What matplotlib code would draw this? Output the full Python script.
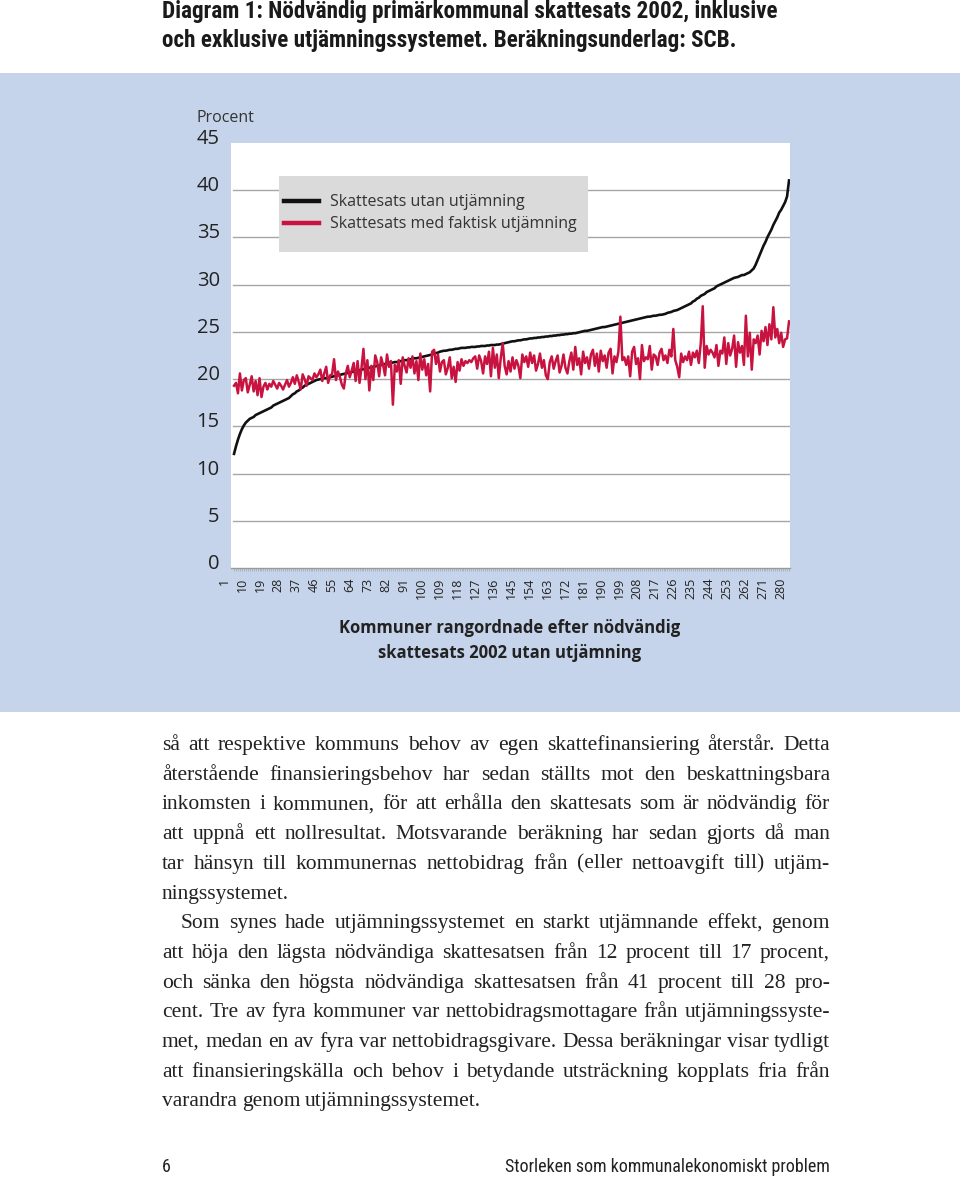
import matplotlib
matplotlib.use('Agg')
import matplotlib.pyplot as plt
import numpy as np
from matplotlib.patches import Rectangle
from matplotlib.lines import Line2D

# --- data ---
utan = [
    12.1, 12.9, 13.6, 14.2, 14.7, 15.1, 15.4, 15.6, 15.8, 15.9,
    16.0, 16.2, 16.3, 16.4, 16.5, 16.6, 16.7, 16.8, 16.9, 17.0,
    17.2, 17.3, 17.4, 17.5, 17.6, 17.7, 17.8, 17.9, 18.0, 18.2,
    18.4, 18.5, 18.7, 18.8, 19.0, 19.1, 19.3, 19.4, 19.5, 19.6,
    19.7, 19.8, 19.9, 19.95, 20.0, 20.05, 20.1, 20.1, 20.15, 20.2,
    20.25, 20.3, 20.35, 20.4, 20.45, 20.5, 20.55, 20.6, 20.65, 20.7,
    20.75, 20.8, 20.85, 20.9, 20.95, 21.0, 21.05, 21.1, 21.15, 21.2,
    21.25, 21.3, 21.35, 21.4, 21.45, 21.5, 21.55, 21.6, 21.6, 21.65,
    21.7, 21.75, 21.8, 21.8, 21.85, 21.9, 21.95, 22.0, 22.0, 22.05,
    22.1, 22.15, 22.2, 22.2, 22.25, 22.3, 22.35, 22.4, 22.45, 22.5,
    22.55, 22.6, 22.7, 22.75, 22.8, 22.9, 22.95, 23.0, 23.0, 23.05,
    23.1, 23.1, 23.15, 23.2, 23.2, 23.25, 23.3, 23.3, 23.3, 23.35,
    23.35, 23.4, 23.4, 23.4, 23.45, 23.45, 23.5, 23.5, 23.5, 23.55,
    23.55, 23.6, 23.6, 23.6, 23.65, 23.65, 23.7, 23.75, 23.8, 23.85,
    23.9, 23.95, 24.0, 24.0, 24.05, 24.1, 24.1, 24.15, 24.2, 24.2,
    24.25, 24.3, 24.3, 24.35, 24.35, 24.4, 24.4, 24.45, 24.45, 24.5,
    24.5, 24.55, 24.55, 24.6, 24.6, 24.65, 24.65, 24.7, 24.7, 24.75,
    24.75, 24.8, 24.8, 24.85, 24.85, 24.9, 24.95, 25.0, 25.05, 25.1,
    25.1, 25.15, 25.2, 25.25, 25.3, 25.35, 25.4, 25.45, 25.5, 25.5,
    25.55, 25.6, 25.65, 25.7, 25.75, 25.8, 25.85, 25.9, 25.95, 26.0,
    26.05, 26.1, 26.15, 26.2, 26.25, 26.3, 26.35, 26.4, 26.45, 26.5,
    26.55, 26.6, 26.6, 26.65, 26.7, 26.7, 26.75, 26.8, 26.8, 26.85,
    26.9, 27.0, 27.05, 27.1, 27.2, 27.25, 27.3, 27.4, 27.5, 27.6,
    27.7, 27.8, 27.9, 28.0, 28.2, 28.3, 28.5, 28.6, 28.8, 28.9,
    29.0, 29.2, 29.3, 29.4, 29.5, 29.6, 29.8, 29.9, 30.0, 30.1,
    30.2, 30.3, 30.4, 30.5, 30.6, 30.7, 30.75, 30.8, 30.9, 31.0,
    31.0, 31.1, 31.2, 31.3, 31.5, 31.7, 32.1, 32.6, 33.1, 33.6,
    34.1, 34.5, 35.0, 35.4, 35.8, 36.3, 36.7, 37.1, 37.6, 37.9,
    38.3, 38.7, 39.3, 41.0,
]

med = [
    19.3, 19.6, 18.5, 20.6, 18.8, 19.9, 20.1, 18.6, 19.4, 20.3,
    18.7, 19.8, 18.3, 20.1, 18.1, 19.2, 19.6, 18.9, 19.5, 19.2,
    19.8, 19.4, 19.0, 19.6, 19.3, 18.9, 19.4, 19.9, 19.2, 19.6,
    20.2, 19.5, 20.4, 19.7, 18.9, 20.5, 20.0, 19.3, 20.3, 20.1,
    19.9, 20.6, 20.2, 20.5, 21.0, 19.8, 20.6, 21.3, 19.6, 20.4,
    20.5, 22.1, 19.9, 20.8, 20.2, 19.4, 19.0, 20.6, 21.4, 20.2,
    20.9, 21.7, 19.8, 21.9, 19.6, 21.2, 23.2, 20.0, 22.0, 18.8,
    21.4, 19.9, 22.5, 21.8, 20.3, 22.3, 21.5, 20.4, 22.6, 21.3,
    21.9, 17.3, 21.5, 20.8, 22.0, 19.5, 22.3, 21.4, 20.7, 22.2,
    21.2, 22.4, 20.6, 21.9, 19.9, 22.7, 21.0, 22.1, 20.4, 21.6,
    18.7, 22.9, 23.1, 21.6, 22.6, 20.8, 21.8, 22.0, 20.5, 21.2,
    22.3, 20.1, 21.3, 19.7, 21.8, 20.9, 22.1, 21.4, 21.9, 21.7,
    22.0, 21.8, 22.2, 22.4, 21.1, 22.5, 21.9, 20.6, 22.4, 21.6,
    22.9, 20.3, 23.3, 21.2, 22.6, 20.1, 22.2, 23.8, 21.4, 20.5,
    21.9, 20.8, 22.3, 21.1, 22.0, 21.4, 20.1, 22.6, 21.8, 22.4,
    21.3, 22.8, 21.7, 22.5, 20.9, 21.6, 22.7, 21.2, 22.0, 20.4,
    20.0, 21.8, 22.4, 21.1, 21.9, 22.5, 20.7, 21.4, 22.6, 21.2,
    20.6, 21.9, 22.8, 21.0, 23.4, 21.5, 22.2, 20.5, 22.9, 21.7,
    22.3, 21.1, 22.6, 23.1, 21.4, 22.7, 20.8, 23.0, 21.9, 22.5,
    21.2, 22.8, 23.2, 20.6, 22.4, 21.8, 22.9, 26.6, 22.0, 22.3,
    21.5, 22.4, 20.3, 22.9, 23.4, 21.6, 22.2, 20.0, 23.6, 21.9,
    22.3, 22.1, 23.5, 21.0, 22.6, 22.4, 21.5, 22.8, 23.2, 22.0,
    22.5, 21.7, 23.1, 22.4, 25.3, 22.0, 21.3, 20.2, 22.7, 21.8,
    22.4, 22.0, 22.9, 21.5, 22.8, 22.3, 23.0, 21.7, 23.8, 27.7,
    21.2, 23.5, 22.6, 23.1, 22.8, 22.3, 23.6, 21.4, 23.0, 22.7,
    24.4, 21.6, 23.8, 22.5, 23.2, 24.6, 21.3, 23.9, 22.8, 23.5,
    21.5, 26.7, 22.4, 24.9, 21.0, 24.2, 23.8, 24.6, 22.6, 25.1,
    24.0, 25.5, 23.6, 25.8, 24.2, 27.6, 24.4, 25.3, 23.8, 24.9,
    23.4, 24.2, 24.3, 26.1,
]

y_ticks = [0, 5, 10, 15, 20, 25, 30, 35, 40, 45]
x_labels = list(range(1, 281, 9))
series_names = ['Skattesats utan utjämning', 'Skattesats med faktisk utjämning']

title_lines = ['Diagram 1: Nödvändig primärkommunal skattesats 2002, inklusive',
               'och exklusive utjämningssystemet. Beräkningsunderlag: SCB.']
xlabel_lines = ['Kommuner rangordnade efter nödvändig', 'skattesats 2002 utan utjämning']

body = [
    ('så att respektive kommuns behov av egen skattefinansiering återstår. Detta', False),
    ('återstående finansieringsbehov har sedan ställts mot den beskattningsbara', False),
    ('inkomsten i kommunen, för att erhålla den skattesats som är nödvändig för', False),
    ('att uppnå ett nollresultat. Motsvarande beräkning har sedan gjorts då man', False),
    ('tar hänsyn till kommunernas nettobidrag från (eller nettoavgift till) utjäm-', False),
    ('ningssystemet.', True),
    ('Som synes hade utjämningssystemet en starkt utjämnande effekt, genom', False),
    ('att höja den lägsta nödvändiga skattesatsen från 12 procent till 17 procent,', False),
    ('och sänka den högsta nödvändiga skattesatsen från 41 procent till 28 pro-', False),
    ('cent. Tre av fyra kommuner var nettobidragsmottagare från utjämningssyste-', False),
    ('met, medan en av fyra var nettobidragsgivare. Dessa beräkningar visar tydligt', False),
    ('att finansieringskälla och behov i betydande utsträckning kopplats fria från', False),
    ('varandra genom utjämningssystemet.', True),
]

# --- styles ---
W, H = 960, 1178
BLUE = '#c6d4eb'
RED = '#c8123f'
BLACK = '#111111'
GRID = '#a6a6a6'
sans = ['Open Sans', 'DejaVu Sans']
narrow = ['Roboto Condensed', 'DejaVu Sans']
serif = ['Liberation Serif', 'DejaVu Serif']


def fx(x):
    return x / W


def fy(y):
    return 1 - y / H


fig = plt.figure(figsize=(W / 100, H / 100), dpi=100)
fig.patch.set_facecolor('white')
renderer = fig.canvas.get_renderer()


def fit_width(t, target):
    # scale the font so the line spans the same width as in the reference
    w = t.get_window_extent(renderer).width
    t.set_fontsize(t.get_fontsize() * target / w)


# blue panel behind the chart
fig.patches.append(Rectangle((0, fy(712)), 1, (712 - 73) / H, transform=fig.transFigure,
                             facecolor=BLUE, edgecolor='none', zorder=-2))

ax = fig.add_axes([fx(230.7), fy(568.3), 559.3 / W, 425.7 / H])
ax.set_facecolor('white')
idx = np.arange(1, len(utan) + 1)
ax.plot(idx, utan, color=BLACK, lw=1.9, zorder=3, solid_joinstyle='round')
ax.plot(idx, med, color=RED, lw=1.8, zorder=4, solid_joinstyle='round')

ax.set_xlim(-0.7, len(utan) + 0.5)
ax.set_ylim(0, 45)
for s in ['top', 'left', 'right']:
    ax.spines[s].set_visible(False)
ax.spines['bottom'].set_color('#9a9a9a')
ax.spines['bottom'].set_linewidth(1.0)
ax.set_yticks([])
ax.set_xticks([])
ax.set_xticks(idx, minor=True)
ax.tick_params(axis='x', which='minor', length=2.5, width=0.4, color='#9a9a9a')
for v in y_ticks[1:-1]:
    ax.axhline(v, xmin=0.004, xmax=1, color=GRID, lw=1.0, zorder=1)

# y labels, slightly above their grid lines
for v in y_ticks:
    ax.annotate(str(v), xy=(0, v), xycoords=('axes fraction', 'data'),
                xytext=(-11, 4), textcoords='offset pixels', ha='right', va='center',
                fontsize=14.5, family=sans, color='#222222', annotation_clip=False)
fig.text(fx(196), fy(118), 'Procent', fontsize=11.5, family=sans, color='#333333',
         ha='left', va='center')

# x labels: every 9th kommun, rotated
for lab in x_labels:
    pos = lab * 1.018 - 5.1
    ax.text(pos, -0.022, str(lab), transform=ax.get_xaxis_transform(), rotation=90,
            ha='center', va='top', fontsize=9, family=sans, color='#222222', clip_on=False)

for k, line in enumerate(xlabel_lines):
    fig.text(fx(510), fy(628 + 24.5 * k), line, fontsize=12, weight='bold', family=sans,
             color='#222222', ha='center', va='center')

# legend box
fig.patches.append(Rectangle((fx(279), fy(252)), (588 - 279) / W, (252 - 176) / H,
                             transform=fig.transFigure, facecolor='#dadada',
                             edgecolor='none', zorder=2))
for k, (name, col) in enumerate(zip(series_names, [BLACK, RED])):
    yy = 201 + 22 * k
    fig.lines.append(Line2D([fx(284), fx(319)], [fy(yy), fy(yy)], transform=fig.transFigure,
                            color=col, lw=3.2, zorder=3))
    fig.text(fx(330), fy(yy + 0.5), name, fontsize=11.5, family=sans, color='#333333',
             ha='left', va='center', zorder=3)

# title
for k, line in enumerate(title_lines):
    t = fig.text(fx(162), fy(18 + 29 * k), line, fontsize=15, weight='bold', family=narrow,
                 color='#1a1a1a', ha='left', va='baseline')
    if k == 0:
        fit_width(t, 617)
        title_size = t.get_fontsize()
    else:
        t.set_fontsize(title_size)

# body text, justified between x=162 and x=830
left, right = 162, 830
for k, (line, last) in enumerate(body):
    y = fy(750 + 29.7 * k)
    x0 = left + (19 if k == 6 else 0)
    words = line.split()
    texts = [fig.text(0, y, w, fontsize=15.5, family=serif, color='#222222',
                      ha='left', va='baseline') for w in words]
    widths = [t.get_window_extent(renderer).width for t in texts]
    if last or len(words) == 1:
        gap = 4.8
    else:
        gap = (right - x0 - sum(widths)) / (len(words) - 1)
    x = x0
    for t, w in zip(texts, widths):
        t.set_x(fx(x))
        x += w + gap

# footer
fig.text(fx(162), fy(1172), '6', fontsize=13, family=narrow, color='#222222',
         ha='left', va='baseline')
foot = fig.text(fx(830), fy(1172), 'Storleken som kommunalekonomiskt problem', fontsize=13,
                family=narrow, color='#222222', ha='right', va='baseline')
fit_width(foot, 323)

fig.savefig('out.png', dpi=100)
